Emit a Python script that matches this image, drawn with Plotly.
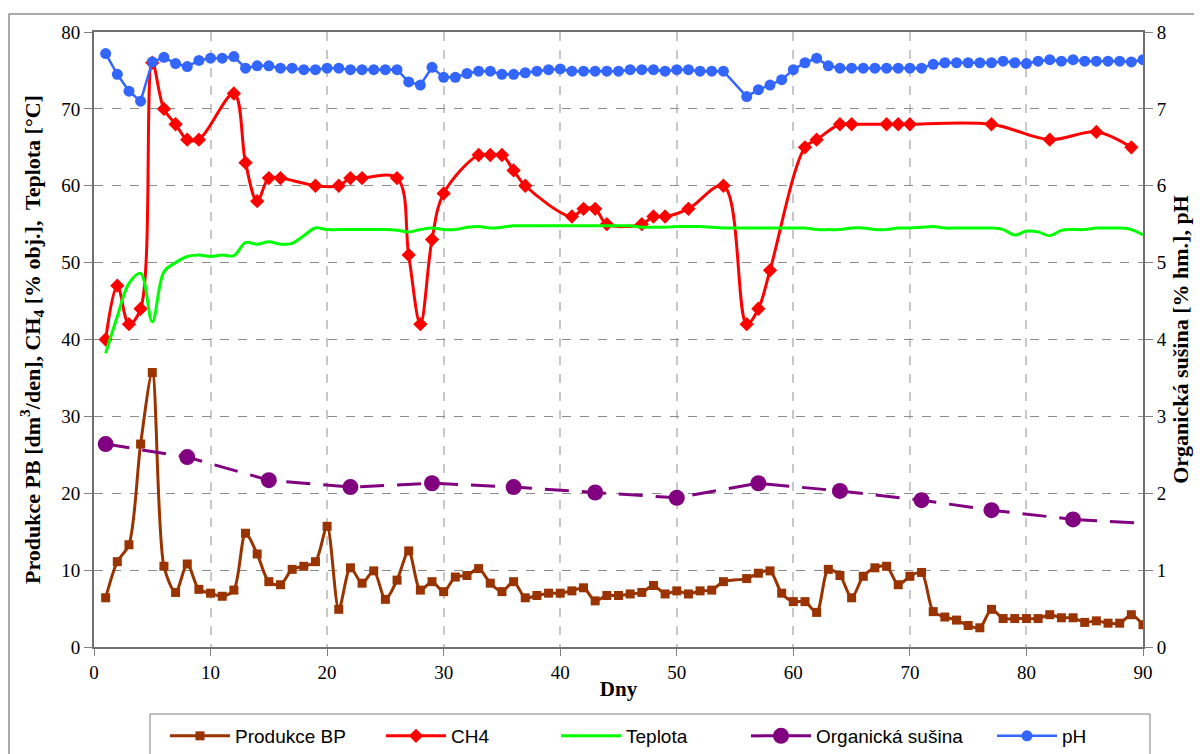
import plotly.graph_objects as go

# ---------------- data ----------------
days_bp = [1, 2, 3, 4, 5, 6, 7, 8, 9, 10, 11, 12, 13, 14, 15, 16, 17, 18, 19, 20,
           21, 22, 23, 24, 25, 26, 27, 28, 29, 30, 31, 32, 33, 34, 35, 36, 37, 38, 39, 40,
           41, 42, 43, 44, 45, 46, 47, 48, 49, 50, 51, 52, 53, 54, 56, 57, 58, 59, 60,
           61, 62, 63, 64, 65, 66, 67, 68, 69, 70, 71, 72, 73, 74, 75, 76, 77, 78, 79, 80,
           81, 82, 83, 84, 85, 86, 87, 88, 89, 90]
produkce_bp = [6.4, 11.1, 13.3, 26.4, 35.7, 10.5, 7.1, 10.8, 7.5, 7.0, 6.6, 7.4, 14.8, 12.1, 8.5, 8.1, 10.1, 10.5, 11.1, 15.7,
               4.9, 10.3, 8.3, 9.9, 6.2, 8.7, 12.5, 7.4, 8.5, 7.2, 9.1, 9.3, 10.2, 8.3, 7.2, 8.5, 6.4, 6.7, 7.0, 7.0,
               7.3, 7.7, 6.0, 6.7, 6.7, 6.9, 7.1, 8.0, 6.9, 7.3, 6.9, 7.3, 7.4, 8.5, 8.9, 9.6, 9.9, 7.0, 5.9,
               5.9, 4.5, 10.1, 9.3, 6.4, 9.2, 10.3, 10.5, 8.1, 9.2, 9.7, 4.6, 3.9, 3.5, 2.8, 2.5, 4.9, 3.7, 3.7, 3.7,
               3.7, 4.2, 3.8, 3.8, 3.2, 3.4, 3.1, 3.1, 4.2, 2.9]

days_ch4 = [1, 2, 3, 4, 5, 6, 7, 8, 9, 12, 13, 14, 15, 16, 19, 21, 22, 23, 26, 27, 28, 29, 30,
            33, 34, 35, 36, 37, 41, 42, 43, 44, 47, 48, 49, 51, 54, 56, 57, 58, 61, 62, 64, 65,
            68, 69, 70, 77, 82, 86, 89]
ch4 = [40, 47, 42, 44, 76, 70, 68, 66, 66, 72, 63, 58, 61, 61, 60, 60, 61, 61, 61, 51, 42, 53, 59,
       64, 64, 64, 62, 60, 56, 57, 57, 55, 55, 56, 56, 57, 60, 42, 44, 49, 65, 66, 68, 68,
       68, 68, 68, 68, 66, 67, 65]

days_t = list(range(1, 91))
teplota = [38.2, 43.0, 47.3, 48.6, 42.3, 48.8, 50.0, 50.8, 51.0, 50.8,
           51.0, 50.9, 52.6, 52.4, 52.7, 52.4, 52.5, 53.5, 54.5, 54.3,
           54.3, 54.3, 54.3, 54.3, 54.3, 54.2, 54.0, 54.3, 54.5, 54.3,
           54.3, 54.6, 54.7, 54.5, 54.6, 54.8, 54.8, 54.8, 54.8, 54.8,
           54.8, 54.8, 54.8, 54.8, 54.8, 54.8, 54.6, 54.6, 54.6, 54.7,
           54.7, 54.7, 54.6, 54.5, 54.5, 54.5, 54.5, 54.5, 54.5, 54.5,
           54.5, 54.3, 54.3, 54.3, 54.5, 54.5, 54.3, 54.3, 54.5, 54.5,
           54.6, 54.7, 54.5, 54.5, 54.5, 54.5, 54.5, 54.3, 53.6, 54.1,
           54.0, 53.5, 54.2, 54.3, 54.3, 54.5, 54.5, 54.5, 54.3, 53.6]

days_os = [1, 8, 15, 22, 29, 36, 43, 50, 57, 64, 71, 77, 84]
org_susina = [2.64, 2.47, 2.17, 2.08, 2.13, 2.08, 2.01, 1.94, 2.13, 2.03, 1.91, 1.78, 1.66]
days_os_tail = [84, 90]
org_susina_tail = [1.66, 1.61]

days_ph = [1, 2, 3, 4, 5, 6, 7, 8, 9, 10, 11, 12, 13, 14, 15, 16, 17, 18, 19, 20,
           21, 22, 23, 24, 25, 26, 27, 28, 29, 30, 31, 32, 33, 34, 35, 36, 37, 38, 39, 40,
           41, 42, 43, 44, 45, 46, 47, 48, 49, 50, 51, 52, 53, 54, 56, 57, 58, 59, 60,
           61, 62, 63, 64, 65, 66, 67, 68, 69, 70, 71, 72, 73, 74, 75, 76, 77, 78, 79, 80,
           81, 82, 83, 84, 85, 86, 87, 88, 89, 90]
ph = [7.72, 7.45, 7.23, 7.10, 7.61, 7.67, 7.59, 7.55, 7.63, 7.66, 7.66, 7.68, 7.53, 7.56, 7.56, 7.53, 7.53, 7.51, 7.51, 7.53,
      7.53, 7.51, 7.51, 7.51, 7.51, 7.51, 7.35, 7.31, 7.54, 7.41, 7.41, 7.46, 7.49, 7.49, 7.45, 7.45, 7.47, 7.49, 7.51, 7.52,
      7.49, 7.49, 7.49, 7.49, 7.49, 7.51, 7.51, 7.51, 7.49, 7.51, 7.51, 7.49, 7.49, 7.49, 7.16, 7.25, 7.31, 7.38, 7.51,
      7.60, 7.66, 7.56, 7.53, 7.53, 7.53, 7.53, 7.53, 7.53, 7.53, 7.53, 7.58, 7.60, 7.60, 7.60, 7.60, 7.60, 7.62, 7.60, 7.59,
      7.62, 7.64, 7.62, 7.64, 7.62, 7.62, 7.62, 7.62, 7.61, 7.64]

x_ticks = [0, 10, 20, 30, 40, 50, 60, 70, 80, 90]

# ---------------- figure ----------------
BROWN = "#993300"
RED = "#FF0000"
GREEN = "#00FF00"
PURPLE = "#800080"
BLUE = "#3366FF"

fig = go.Figure()

fig.add_trace(go.Scatter(
    x=days_bp, y=produkce_bp, name="Produkce BP", mode="lines+markers", legend="legend",
    line=dict(color=BROWN, width=3, shape="spline", smoothing=0.8),
    marker=dict(symbol="square", size=9, color=BROWN)))

fig.add_trace(go.Scatter(
    x=days_ch4, y=ch4, name="CH4", mode="lines+markers", legend="legend2",
    line=dict(color=RED, width=3, shape="spline", smoothing=1),
    marker=dict(symbol="diamond", size=11, color=RED)))

fig.add_trace(go.Scatter(
    x=days_t, y=teplota, name="Teplota", mode="lines", legend="legend3",
    line=dict(color=GREEN, width=3, shape="spline", smoothing=1)))

fig.add_trace(go.Scatter(
    x=days_os, y=org_susina, name="Organická sušina", mode="lines+markers", yaxis="y2",
    legend="legend4",
    line=dict(color=PURPLE, width=3, dash="24px,13px"),
    marker=dict(symbol="circle", size=16, color=PURPLE)))

fig.add_trace(go.Scatter(
    x=days_os_tail, y=org_susina_tail, mode="lines", yaxis="y2", showlegend=False,
    line=dict(color=PURPLE, width=3, dash="24px,13px"), hoverinfo="skip"))

fig.add_trace(go.Scatter(
    x=days_ph, y=ph, name="pH", mode="lines+markers", yaxis="y2", legend="legend5",
    line=dict(color=BLUE, width=2.5),
    marker=dict(symbol="circle", size=11, color=BLUE)))

# the page body adds an 8px offset; positions below are in figure pixels
OFF = 8
W, H = 1202, 754
L = 94 - OFF
T = 32 - OFF
R = W - (1143 - OFF)
B = H - (647 - OFF)
pw, ph_ = W - L - R, H - T - B

def px_x(p):
    return (p - OFF - L) / pw

def px_y(p):
    return (H - B - (p - OFF)) / ph_

serif = "Liberation Serif, Times New Roman, serif"
sans = "Liberation Sans, Arial, sans-serif"

def leg(text_x):
    return dict(orientation="h", x=px_x(text_x - 72), xanchor="left",
                y=px_y(717), yanchor="top", borderwidth=0,
                bgcolor="rgba(0,0,0,0)", itemwidth=60,
                font=dict(family=sans, size=19, color="black"))

fig.update_layout(
    width=W, height=H,
    margin=dict(l=L, r=R, t=T, b=B, autoexpand=False),
    paper_bgcolor="white", plot_bgcolor="white",
    font=dict(family=serif, size=19, color="black"),
    xaxis=dict(
        range=[0, 90], tickvals=x_ticks, ticks="outside", ticklen=7, tickcolor="#808080",
        showline=True, linecolor="#707070", linewidth=2, mirror=True,
        showgrid=True, gridcolor="#C8C8C8", griddash="dash", gridwidth=1.5,
        zeroline=False, automargin=False,
        title=dict(text="<b>Dny</b>", font=dict(family=serif, size=21), standoff=0),
        tickfont=dict(family=serif, size=19)),
    yaxis=dict(
        range=[0, 80], dtick=10, ticks="outside", ticklen=8, tickcolor="#808080",
        showline=True, linecolor="#707070", linewidth=2,
        showgrid=True, gridcolor="#8C8C8C", griddash="dash", gridwidth=1.2,
        zeroline=False, automargin=False,
        title=dict(text="<b>Produkce PB [dm<sup>3</sup>/den], CH<sub>4</sub> [% obj.],  Teplota [°C]</b>",
                   font=dict(family=serif, size=22), standoff=15),
        tickfont=dict(family=serif, size=19)),
    yaxis2=dict(
        range=[0, 8], dtick=1, overlaying="y", side="right",
        ticks="outside", ticklen=8, tickcolor="#808080",
        showline=True, linecolor="#707070", linewidth=2,
        showgrid=False, zeroline=False, automargin=False,
        title=dict(text="<b>Organická sušina [% hm.], pH</b>",
                   font=dict(family=serif, size=22), standoff=7),
        tickfont=dict(family=serif, size=19)),
    legend=leg(237),
    legend2=leg(453),
    legend3=leg(628),
    legend4=leg(818),
    legend5=leg(1064),
    shapes=[
        dict(type="rect", xref="paper", yref="paper",
             x0=px_x(9), x1=px_x(1215), y0=px_y(770), y1=px_y(14),
             line=dict(color="#909090", width=1.5), layer="below"),
        dict(type="rect", xref="paper", yref="paper",
             x0=px_x(150), x1=px_x(1150), y0=px_y(770), y1=px_y(714),
             line=dict(color="#808080", width=1), layer="below"),
    ],
    showlegend=True,
)

fig.write_html("out.html")
